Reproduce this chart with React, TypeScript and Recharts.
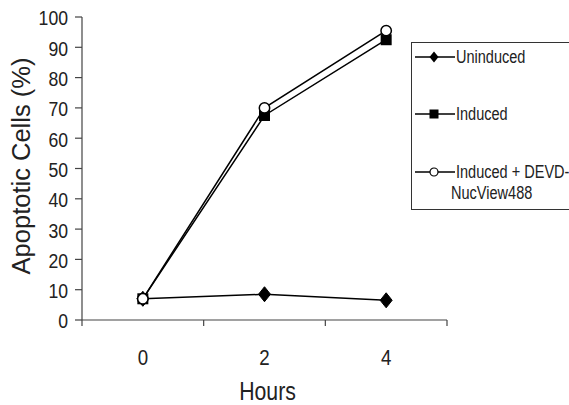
import React from "react";
import { LineChart, Line, XAxis, YAxis } from "recharts";

const hours = ["0", "2", "4"];
const uninduced = [7, 8.5, 6.5];
const induced = [7, 67.5, 92.5];
const inducedDevd = [7, 70, 95.5];
const yTicks = [0, 10, 20, 30, 40, 50, 60, 70, 80, 90, 100];
const seriesNames = ["Uninduced", "Induced", "Induced + DEVD-NucView488"];
const legendLines = [["Uninduced"], ["Induced"], ["Induced + DEVD-", "NucView488"]];

const data = hours.map((h, i) => ({
  hour: h,
  pos: i + 0.5,
  uninduced: uninduced[i],
  induced: induced[i],
  devd: inducedDevd[i],
}));

const xTicks = [0, 0.5, 1, 1.5, 2, 2.5, 3];

const REG = "'Liberation Sans', Arial, sans-serif";
const AXIS = "#444";
const TEXT = "#222";

const diamondPath = (cx: number, cy: number, w: number, h: number) =>
  `M${cx},${cy - h / 2}L${cx + w / 2},${cy}L${cx},${cy + h / 2}L${cx - w / 2},${cy}Z`;

const DiamondDot = (p: any) => (
  <path key={`d-${p.index}`} d={diamondPath(p.cx, p.cy, 12, 15)} fill="#000" stroke="#000" />
);
const SquareDot = (p: any) => (
  <rect key={`s-${p.index}`} x={p.cx - 5.5} y={p.cy - 5.5} width={11} height={11} fill="#000" />
);
const CircleDot = (p: any) => (
  <circle key={`c-${p.index}`} cx={p.cx} cy={p.cy} r={5.2} fill="#fff" stroke="#000" strokeWidth={1.5} />
);

const NarrowText = ({ x, y, size, anchor, children, dy, sx }: any) => (
  <text
    x={0}
    y={0}
    dy={dy}
    transform={`translate(${x},${y}) scale(${sx},1)`}
    textAnchor={anchor}
    fontSize={size}
    fontFamily={REG}
    fill={TEXT}
  >
    {children}
  </text>
);

const XTick = (props: any) => {
  const { x, y, payload } = props;
  const v = payload.value;
  if (Number.isInteger(v)) {
    return <line x1={x} x2={x} y1={y} y2={y + 6} stroke={AXIS} strokeWidth={1.2} />;
  }
  const idx = Math.floor(v);
  return (
    <NarrowText x={x} y={y + 45} size={22} sx={0.85} anchor="middle">
      {hours[idx]}
    </NarrowText>
  );
};

const YTick = (props: any) => {
  const { x, y, payload } = props;
  return (
    <NarrowText x={x} y={y + 1} size={21} sx={0.84} anchor="end" dy="0.355em">
      {payload.value}
    </NarrowText>
  );
};

const XLabel = (props: any) => {
  const vb = props.viewBox || {};
  return (
    <NarrowText x={vb.x + vb.width / 2 + 3} y={400} size={25} sx={0.85} anchor="middle">
      Hours
    </NarrowText>
  );
};

const YLabel = () => (
  <text
    x={30}
    y={166}
    textAnchor="middle"
    fontSize={25.5}
    fontFamily={REG}
    fill={TEXT}
    transform="rotate(-90, 30, 166)"
  >
    Apoptotic Cells (%)
  </text>
);

const LegendSample = ({ kind }: { kind: number }) => (
  <svg width={40} height={14} style={{ position: "absolute", left: 3, top: -7 }}>
    <line x1={0} x2={40} y1={7} y2={7} stroke="#000" strokeWidth={1.5} />
    {kind === 0 && <path d={diamondPath(19, 7, 9, 11)} fill="#000" />}
    {kind === 1 && <rect x={14.5} y={2.5} width={9} height={9} fill="#000" />}
    {kind === 2 && <circle cx={19} cy={7} r={4} fill="#fff" stroke="#000" strokeWidth={1.2} />}
  </svg>
);

const legendTops = [14, 71, 129];

export default function App() {
  return (
    <div
      style={{
        position: "absolute",
        left: 0,
        top: 0,
        width: 569,
        height: 405,
        overflow: "hidden",
        background: "#fff",
      }}
    >
      <LineChart width={569} height={405} data={data} margin={{ top: 17, right: 122, bottom: 55, left: 0 }}>
        <XAxis
          dataKey="pos"
          type="number"
          domain={[0, 3]}
          ticks={xTicks}
          interval={0}
          height={30}
          tickLine={false}
          tickSize={0}
          tickMargin={0}
          tick={<XTick />}
          stroke={AXIS}
          axisLine={{ stroke: AXIS, strokeWidth: 1.2 }}
          label={<XLabel />}
        />
        <YAxis
          type="number"
          domain={[0, 100]}
          ticks={yTicks}
          interval={0}
          width={82}
          tickSize={7}
          tickMargin={7}
          stroke={AXIS}
          axisLine={{ stroke: AXIS, strokeWidth: 1.2 }}
          tickLine={{ stroke: AXIS, strokeWidth: 1.2 }}
          tick={<YTick />}
          label={<YLabel />}
        />
        <Line
          name={seriesNames[0]}
          dataKey="uninduced"
          stroke="#000"
          strokeWidth={1.5}
          dot={DiamondDot}
          isAnimationActive={false}
        />
        <Line
          name={seriesNames[1]}
          dataKey="induced"
          stroke="#000"
          strokeWidth={1.5}
          dot={SquareDot}
          isAnimationActive={false}
        />
        <Line
          name={seriesNames[2]}
          dataKey="devd"
          stroke="#000"
          strokeWidth={1.5}
          dot={CircleDot}
          isAnimationActive={false}
        />
      </LineChart>
      <div
        style={{
          position: "absolute",
          left: 411,
          top: 42,
          width: 170,
          height: 168,
          border: "1px solid #333",
          boxSizing: "border-box",
          fontFamily: REG,
          fontSize: 17.5,
          color: TEXT,
        }}
      >
        {legendLines.map((lines, i) => (
          <div key={i} style={{ position: "absolute", left: 0, top: legendTops[i], width: 170 }}>
            <LegendSample kind={i} />
            {lines.map((t, j) => (
              <div
                key={j}
                style={{
                  position: "absolute",
                  left: j === 0 ? 44 : 39,
                  top: j * 21 - 11,
                  whiteSpace: "nowrap",
                  lineHeight: "22px",
                  transform: "scaleX(0.83)",
                  transformOrigin: "0 0",
                }}
              >
                {t}
              </div>
            ))}
          </div>
        ))}
      </div>
    </div>
  );
}
